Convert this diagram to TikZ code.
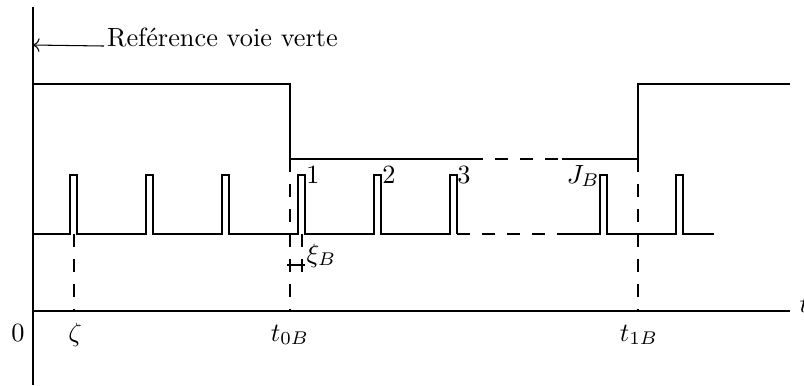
\documentclass[tikz,border=0pt]{standalone}
\usetikzlibrary{arrows.meta, positioning}

\begin{document}
\begin{tikzpicture}[x=0.38pt, y=-0.38pt,
  trait/.style={dash pattern=on 5pt off 4.5pt},
  lbl/.style={inner sep=0pt, anchor=base}]
\useasboundingbox (0,0) rectangle (804,385);
% Chronogramme : voie verte, train d'impulsions et axe des temps
\coordinate (O) at (33,311);
\coordinate (Haut) at (33,7);
\coordinate (Bas) at (33,385);
\coordinate (Fin) at (790,311);
\coordinate (T0) at (290,311);
\coordinate (T1) at (638,311);
\coordinate (Z) at (74,311);
\coordinate (Fleche) at (33,45);

% axes
\draw (Haut) -- (Bas);
\draw (O) -- (Fin);
\node[lbl, anchor=base west] (t) at (799,312) {$t$};
\node[lbl] (zero) at (18,341) {$0$};
\node[lbl] (zeta) at (75,341) {$\zeta$};
\node[lbl] (t0B) at (290,341) {$t_{0B}$};
\node[lbl] (t1B) at (639,341) {$t_{1B}$};

% reference
\node[lbl, anchor=base west, inner sep=1pt] (ref) at (104,46) {Reférence voie verte};
\draw[->] (ref.base west) -- (Fleche);

% voie verte
\draw (33,84) -- (290,84) -- (290,159) -- (470,159);
\draw[trait] (470,159) -- (562,159);
\draw (562,159) -- (638,159) -- (638,84) -- (790,84);

% impulsions
\draw (33,234) foreach \x in {70,146,222,298,374,450} {
  -- (\x,234) -- (\x,175) -- (\x+7,175) -- (\x+7,234)} -- (457,234);
\draw[trait] (457,234) -- (562,234);
\draw (562,234) foreach \x in {600,676} {
  -- (\x,234) -- (\x,175) -- (\x+7,175) -- (\x+7,234)} -- (714,234);

\node[lbl] (n1) at (313,183) {$1$};
\node[lbl] (n2) at (389,183) {$2$};
\node[lbl] (n3) at (464,183) {$3$};
\node[lbl, anchor=base east] (JB) at (600,183) {$J_B$};

% lignes de rappel
\draw[trait] (74,234) -- (Z);
\draw[trait] (290,159) -- (T0);
\draw[trait] (638,159) -- (T1);
\draw[trait] (302,234) -- (302,274);
\draw (287,265) -- (305,265);
\node[lbl, anchor=base west] (xiB) at (306,262) {$\xi_B$};
\end{tikzpicture}
\end{document}
